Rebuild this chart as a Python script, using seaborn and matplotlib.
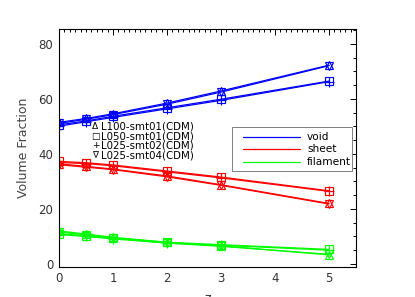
import matplotlib
matplotlib.use("Agg")
import matplotlib.pyplot as plt
import seaborn as sns
from matplotlib.ticker import MultipleLocator
from matplotlib.patches import Rectangle

sns.set_style("white")
plt.rcParams['font.family'] = ['DejaVu Sans']

z = [0, 0.5, 1, 2, 3, 5]

# void
void_L100_s01 = [51.5, 52.9, 54.6, 58.5, 62.9, 72.3]
void_L050_s01 = [50.6, 52.0, 53.7, 56.8, 59.9, 66.5]
void_L025_s02 = [50.1, 51.7, 53.3, 56.4, 59.5, 66.3]
void_L025_s04 = [51.1, 52.6, 54.3, 58.1, 62.5, 72.1]
# sheet
sheet_L100_s01 = [36.4, 35.5, 34.5, 32.0, 28.8, 22.0]
sheet_L050_s01 = [37.3, 36.8, 36.0, 33.8, 31.6, 26.6]
sheet_L025_s02 = [36.9, 36.5, 35.7, 33.5, 31.3, 26.4]
sheet_L025_s04 = [36.1, 35.2, 34.3, 31.7, 28.6, 21.8]
# filament
fil_L100_s01 = [12.0, 10.9, 9.7, 7.9, 6.6, 3.3]
fil_L050_s01 = [11.0, 10.3, 9.4, 7.9, 7.0, 5.3]
fil_L025_s02 = [10.7, 10.0, 9.1, 7.6, 6.8, 5.0]
fil_L025_s04 = [11.6, 10.6, 9.4, 7.6, 6.4, 3.5]

run_labels = ["L100-smt01(CDM)", "L050-smt01(CDM)", "L025-smt02(CDM)", "L025-smt04(CDM)"]
run_symbols = ["\u0394", "\u25a1", "+", "\u2207"]
markers = ["^", "s", "+", "v"]
components = ["void", "sheet", "filament"]
colors = {"void": "#0000ff", "sheet": "#ff0000", "filament": "#00ff00"}
series = {
    "void": [void_L100_s01, void_L050_s01, void_L025_s02, void_L025_s04],
    "sheet": [sheet_L100_s01, sheet_L050_s01, sheet_L025_s02, sheet_L025_s04],
    "filament": [fil_L100_s01, fil_L050_s01, fil_L025_s02, fil_L025_s04],
}

fig = plt.figure(figsize=(4.15, 2.97), dpi=100)
ax = fig.add_axes([0.142, 0.102, 0.716, 0.799])

for comp in components:
    c = colors[comp]
    for vals, m in zip(series[comp], markers):
        sns.lineplot(x=z, y=vals, ax=ax, color=c, linewidth=0.9, marker=m,
                     markersize=6 if m != "+" else 7, markerfacecolor="none",
                     markeredgecolor=c, markeredgewidth=0.85,
                     estimator=None, sort=False)
        ln = ax.lines[-1]
        ln.set_markeredgecolor(c)
        ln.set_markerfacecolor("none")
        ln.set_color(c)

ax.set_xlim(0, 5.5)
ax.set_ylim(-1, 85.3)
ax.xaxis.set_major_locator(MultipleLocator(1))
ax.xaxis.set_minor_locator(MultipleLocator(0.1))
ax.yaxis.set_major_locator(MultipleLocator(20))
ax.yaxis.set_minor_locator(MultipleLocator(5))
ax.tick_params(which="both", direction="in", top=True, right=True, colors="black",
               labelsize=8.5, width=0.7)
ax.tick_params(which="major", length=4.5, pad=4)
ax.tick_params(which="minor", length=2.2)
for lab in ax.get_xticklabels() + ax.get_yticklabels():
    lab.set_color("#333333")
for s in ax.spines.values():
    s.set_color("black")
    s.set_linewidth(0.8)
    s.set_visible(True)

ax.set_xlabel("z", fontsize=9, color="#333333", labelpad=5)
ax.set_ylabel("Volume Fraction", fontsize=9, color="#444444", labelpad=6)

ys = [0.589, 0.549, 0.510, 0.469]
for sym, lab, yy in zip(run_symbols, run_labels, ys):
    ax.text(0.123, yy, sym, transform=ax.transAxes, fontsize=6.5,
            va="center", ha="center", color="black")
    ax.text(0.143, yy, lab, transform=ax.transAxes, fontsize=7.4,
            va="center", ha="left", color="black")

# line legend (box, handles, labels)
ax.add_patch(Rectangle((0.582, 0.403), 0.405, 0.185, transform=ax.transAxes,
                       facecolor="white", edgecolor="gray", linewidth=0.7, zorder=5))
leg_rows = [0.548, 0.495, 0.442]
for comp, yy in zip(components, leg_rows):
    ax.plot([0.620, 0.811], [yy, yy], transform=ax.transAxes, color=colors[comp],
            linewidth=0.9, zorder=6)
    ax.text(0.835, yy, comp, transform=ax.transAxes, fontsize=7.6, va="center",
            ha="left", color="black", zorder=6)

fig.savefig("out.png", dpi=100)
